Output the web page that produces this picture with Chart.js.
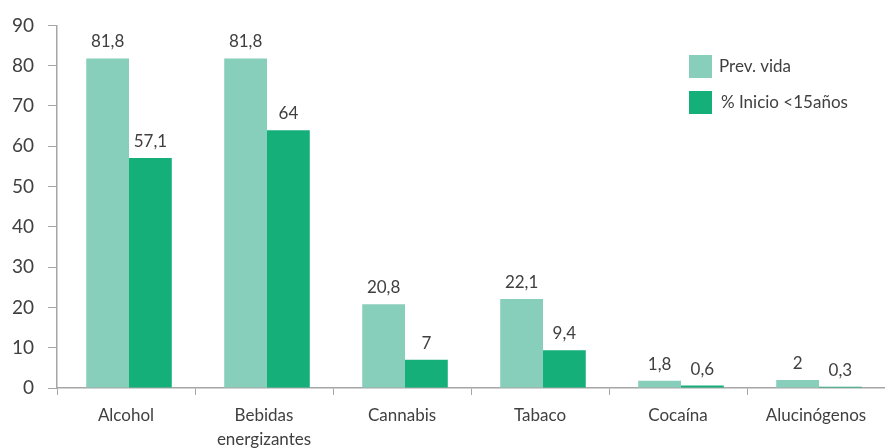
<!DOCTYPE html>
<html>
<head>
<meta charset="utf-8">
<script src="https://cdn.jsdelivr.net/npm/chart.js@4"></script>
<style>
  body { margin: 0; background: #fff; }
  #wrap { width: 885px; height: 448px; position: relative; }
</style>
</head>
<body>
<div id="wrap"><canvas id="myChart"></canvas></div>
<script>
const categories = ["Alcohol", ["Bebidas", "energizantes"], "Cannabis", "Tabaco", "Cocaína", "Alucinógenos"];
const prevVida = [81.8, 81.8, 20.8, 22.1, 1.8, 2];
const inicio15 = [57.1, 64, 7, 9.4, 0.6, 0.3];
const seriesNames = ["Prev. vida", "% Inicio <15años"];
const yTicks = [0, 10, 20, 30, 40, 50, 60, 70, 80, 90];

const lightColor = "#88cfbb";
const darkColor = "#15b07a";
const textColor = "#404040";
const axisColor = "#a6a6a6";
const fontFamily = "Lato, 'Open Sans', sans-serif";
const barShift = 3; // bar pairs sit a little right of the category centre

// nudge the bars (and their labels) sideways
const shiftBars = {
  id: "shiftBars",
  beforeDatasetsDraw(chart) {
    chart.ctx.save();
    chart.ctx.translate(barShift, 0);
  },
  afterDatasetsDraw(chart) {
    chart.ctx.restore();
  }
};

// values above every bar, comma as decimal separator
const valueLabels = {
  id: "valueLabels",
  afterDatasetsDraw(chart) {
    const ctx = chart.ctx;
    ctx.save();
    ctx.font = "17px " + fontFamily;
    ctx.fillStyle = textColor;
    ctx.textAlign = "center";
    ctx.textBaseline = "bottom";
    chart.data.datasets.forEach((ds, i) => {
      chart.getDatasetMeta(i).data.forEach((bar, j) => {
        const txt = String(ds.data[j]).replace(".", ",");
        ctx.fillText(txt, bar.x + barShift, bar.y - 8);
      });
    });
    ctx.restore();
  }
};

// stacked legend in the upper right corner
const cornerLegend = {
  id: "cornerLegend",
  afterDraw(chart) {
    const ctx = chart.ctx;
    ctx.save();
    ctx.font = "17px " + fontFamily;
    ctx.textBaseline = "middle";
    ctx.textAlign = "left";
    chart.data.datasets.forEach((ds, i) => {
      const y = 55 + i * 36;
      ctx.fillStyle = ds.backgroundColor;
      ctx.fillRect(689, y, 23, 23);
      ctx.fillStyle = textColor;
      ctx.fillText(ds.label, 719 + i * 2, y + 12);
    });
    ctx.restore();
  }
};

new Chart("myChart", {
  type: "bar",
  data: {
    labels: categories,
    datasets: [
      { label: seriesNames[0], data: prevVida, backgroundColor: lightColor },
      { label: seriesNames[1], data: inicio15, backgroundColor: darkColor }
    ]
  },
  options: {
    responsive: true,
    maintainAspectRatio: false,
    animation: false,
    layout: { padding: { top: 25, right: -4, left: 0, bottom: 0 } },
    datasets: { bar: { categoryPercentage: 0.62, barPercentage: 1 } },
    plugins: {
      legend: { display: false },
      tooltip: { enabled: false }
    },
    scales: {
      x: {
        offset: true,
        grid: { display: true, drawOnChartArea: false, tickLength: 7, color: axisColor, offset: true },
        border: { color: axisColor, width: 1.5 },
        ticks: { color: textColor, font: { family: fontFamily, size: 17, lineHeight: 1.45 }, padding: 8, maxRotation: 0 },
        afterFit(axis) { axis.height = 60; }
      },
      y: {
        min: 0,
        max: 90,
        afterBuildTicks(axis) { axis.ticks = yTicks.map(v => ({ value: v })); },
        grid: { display: true, drawOnChartArea: false, tickLength: 9, color: axisColor },
        border: { color: axisColor, width: 1.5 },
        ticks: { color: textColor, font: { family: fontFamily, size: 19 }, padding: 14 },
        afterFit(axis) { axis.width = 57; }
      }
    }
  },
  plugins: [shiftBars, valueLabels, cornerLegend]
});
</script>
</body>
</html>
